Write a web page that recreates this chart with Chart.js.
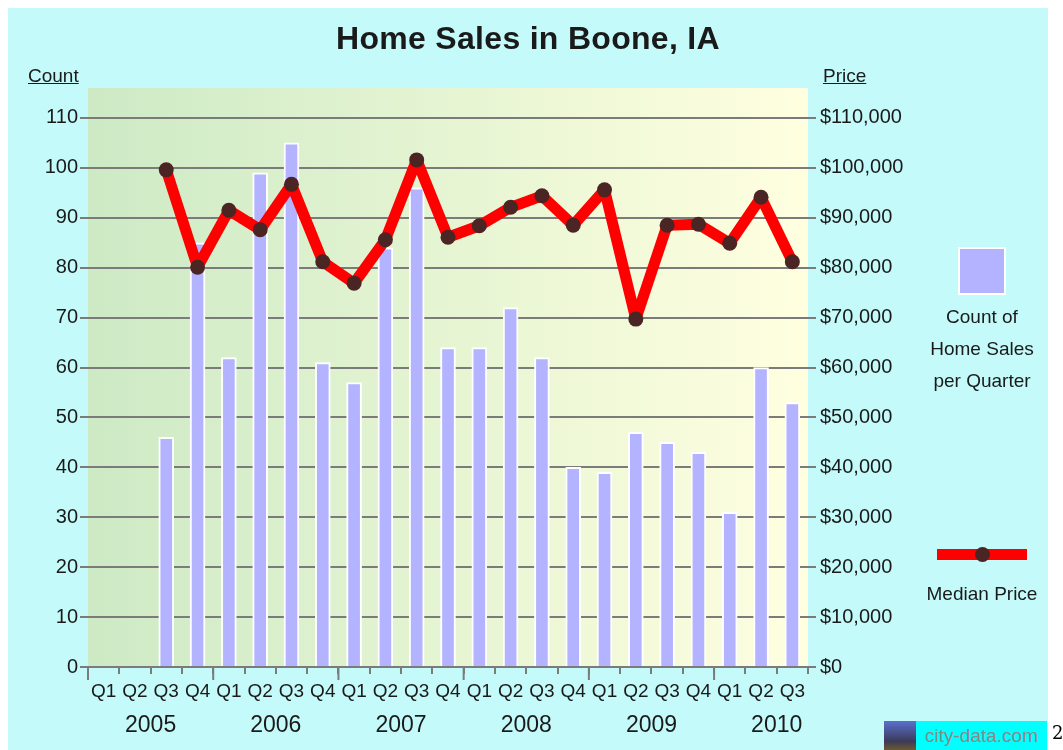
<!DOCTYPE html>
<html>
<head>
<meta charset="utf-8">
<script src="https://cdn.jsdelivr.net/npm/chart.js@4"></script>
<style>
  body{margin:0;background:#fff;font-family:Arial,"Liberation Sans",sans-serif;}
  #wrap{position:relative;width:1063px;height:750px;overflow:hidden;}
  #card{position:absolute;left:8px;top:8px;width:1040px;height:742px;background:#c4fafa;}
  #c{position:absolute;left:0;top:0;}
  .t{position:absolute;color:#1a1a1a;white-space:nowrap;}
  #title{left:0;width:1056px;top:20px;text-align:center;font-weight:bold;font-size:32px;letter-spacing:0.3px;}
  .axt{top:65px;font-size:19px;text-decoration:underline;}
  #legCount{left:922px;width:120px;top:301px;text-align:center;font-size:19px;line-height:32px;}
  #legPrice{left:900px;width:164px;top:583px;text-align:center;font-size:19px;}
  #sq{position:absolute;left:958px;top:247px;width:44px;height:44px;background:#b3b3ff;border:2px solid #fff;}
  #redbar{position:absolute;left:937px;top:549px;width:90px;height:11px;background:#ff0000;}
  #dot{position:absolute;left:975px;top:547px;width:15px;height:15px;border-radius:50%;background:#4b2424;}
  #logo{position:absolute;left:884px;top:721px;width:163px;height:29px;display:flex;}
  #logo .img{width:32px;height:29px;background:linear-gradient(#5a6fd0,#3b3b58 70%,#6b5a30);}
  #logo .txt{flex:1;background:#00ffff;color:#8a8a8a;font-size:19px;line-height:29px;text-align:center;}
  #two{position:absolute;left:1052px;top:722px;font-family:"DejaVu Serif","Liberation Serif",serif;font-size:18px;}
</style>
</head>
<body>
<div id="wrap">
  <div id="card"></div>
  <canvas id="c" width="1063" height="750"></canvas>
  <div id="title" class="t">Home Sales in Boone, IA</div>
  <div class="t axt" style="left:28px">Count</div>
  <div class="t axt" style="left:823px">Price</div>
  <div id="sq"></div>
  <div id="legCount" class="t">Count of<br>Home Sales<br>per Quarter</div>
  <div id="redbar"></div><div id="dot"></div>
  <div id="legPrice" class="t">Median Price</div>
  <div id="logo"><div class="img"></div><div class="txt">city-data.com</div></div>
  <div id="two">2</div>
</div>
<script>
/* datos */
const quarters = ['Q1','Q2','Q3','Q4','Q1','Q2','Q3','Q4','Q1','Q2','Q3','Q4',
                  'Q1','Q2','Q3','Q4','Q1','Q2','Q3','Q4','Q1','Q2','Q3'];
const years = ['2005','2006','2007','2008','2009','2010'];
const salesCount = [null,null,46,85,62,99,105,61,57,84,96,64,64,72,62,40,39,47,45,43,31,60,53];
const medianPrice = [null,null,99600,80100,91500,87600,96700,81200,76900,85600,101600,
                     86100,88400,92100,94400,88500,95600,69700,88500,88700,84900,94100,81200];
const countTicks = [0,10,20,30,40,50,60,70,80,90,100,110];
const priceTicks = [0,10000,20000,30000,40000,50000,60000,70000,80000,90000,100000,110000];

const FONT = 'Arial, "Liberation Sans", sans-serif';
const GRID = '#7b7b7b';

/* fondo degradado del área + ticks de año + etiquetas de año */
const decor = {
  id:'decor',
  beforeDraw(ch){
    const {ctx, chartArea:a} = ch;
    const g = ctx.createLinearGradient(a.left,0,a.right,0);
    g.addColorStop(0,'#cdeac5');
    g.addColorStop(1,'#ffffe0');
    ctx.save(); ctx.fillStyle=g;
    ctx.fillRect(a.left,a.top,a.right-a.left,a.bottom-a.top);
    ctx.restore();
  },
  afterDraw(ch){
    const {ctx, chartArea:a} = ch;
    const x = ch.scales.x;
    const step = x.getPixelForValue(1)-x.getPixelForValue(0);
    ctx.save();
    ctx.strokeStyle=GRID; ctx.lineWidth=2;
    years.forEach((y,i)=>{
      const bx = x.getPixelForValue(i*4)-step/2;
      ctx.beginPath(); ctx.moveTo(bx,a.bottom); ctx.lineTo(bx,a.bottom+13); ctx.stroke();
    });
    ctx.fillStyle='#1a1a1a'; ctx.font='23px '+FONT;
    ctx.textAlign='center'; ctx.textBaseline='middle';
    years.forEach((y,i)=>{
      const cx = x.getPixelForValue(i*4)+1.5*step;
      ctx.fillText(y,cx,a.bottom+59);
    });
    ctx.restore();
  }
};

new Chart(document.getElementById('c'),{
  data:{
    labels:quarters,
    datasets:[
      {type:'line',label:'Median Price',data:medianPrice,yAxisID:'yP',order:0,
       borderColor:'#ff0000',borderWidth:11,borderJoinStyle:'round',
       pointRadius:7.5,pointHoverRadius:7.5,pointBackgroundColor:'#4b2424',pointBorderWidth:0},
      {type:'bar',label:'Count of Home Sales per Quarter',data:salesCount,yAxisID:'y',order:1,
       backgroundColor:'#b3b3ff',borderColor:'#ffffff',borderWidth:2,barThickness:15}
    ]
  },
  options:{
    responsive:false,
    devicePixelRatio:1,
    animation:false,
    layout:{padding:{top:88,left:0,right:0,bottom:0}},
    plugins:{legend:{display:false},tooltip:{enabled:false}},
    scales:{
      x:{
        offset:true,
        grid:{offset:true,drawOnChartArea:false,tickLength:7,color:GRID,lineWidth:2},
        border:{display:true,color:GRID,width:2},
        ticks:{color:'#1a1a1a',font:{family:FONT,size:19},padding:6,maxRotation:0,autoSkip:false},
        afterFit(s){ s.height=83; }
      },
      y:{
        position:'left',min:0,max:116,
        grid:{color:GRID,lineWidth:2,tickLength:8},
        border:{display:false},
        ticks:{color:'#1a1a1a',font:{family:FONT,size:20},padding:2},
        afterBuildTicks(s){ s.ticks = countTicks.map(v=>({value:v})); },
        afterFit(s){ s.width=88; }
      },
      yP:{
        position:'right',min:0,max:116000,
        grid:{drawOnChartArea:false,color:GRID,lineWidth:2,tickLength:8},
        border:{display:false},
        ticks:{color:'#1a1a1a',font:{family:FONT,size:20},padding:4,
               callback:v=>'$'+v.toLocaleString('en-US')},
        afterBuildTicks(s){ s.ticks = priceTicks.map(v=>({value:v})); },
        afterFit(s){ s.width=255; }
      }
    }
  },
  plugins:[decor]
});
</script>
</body>
</html>
